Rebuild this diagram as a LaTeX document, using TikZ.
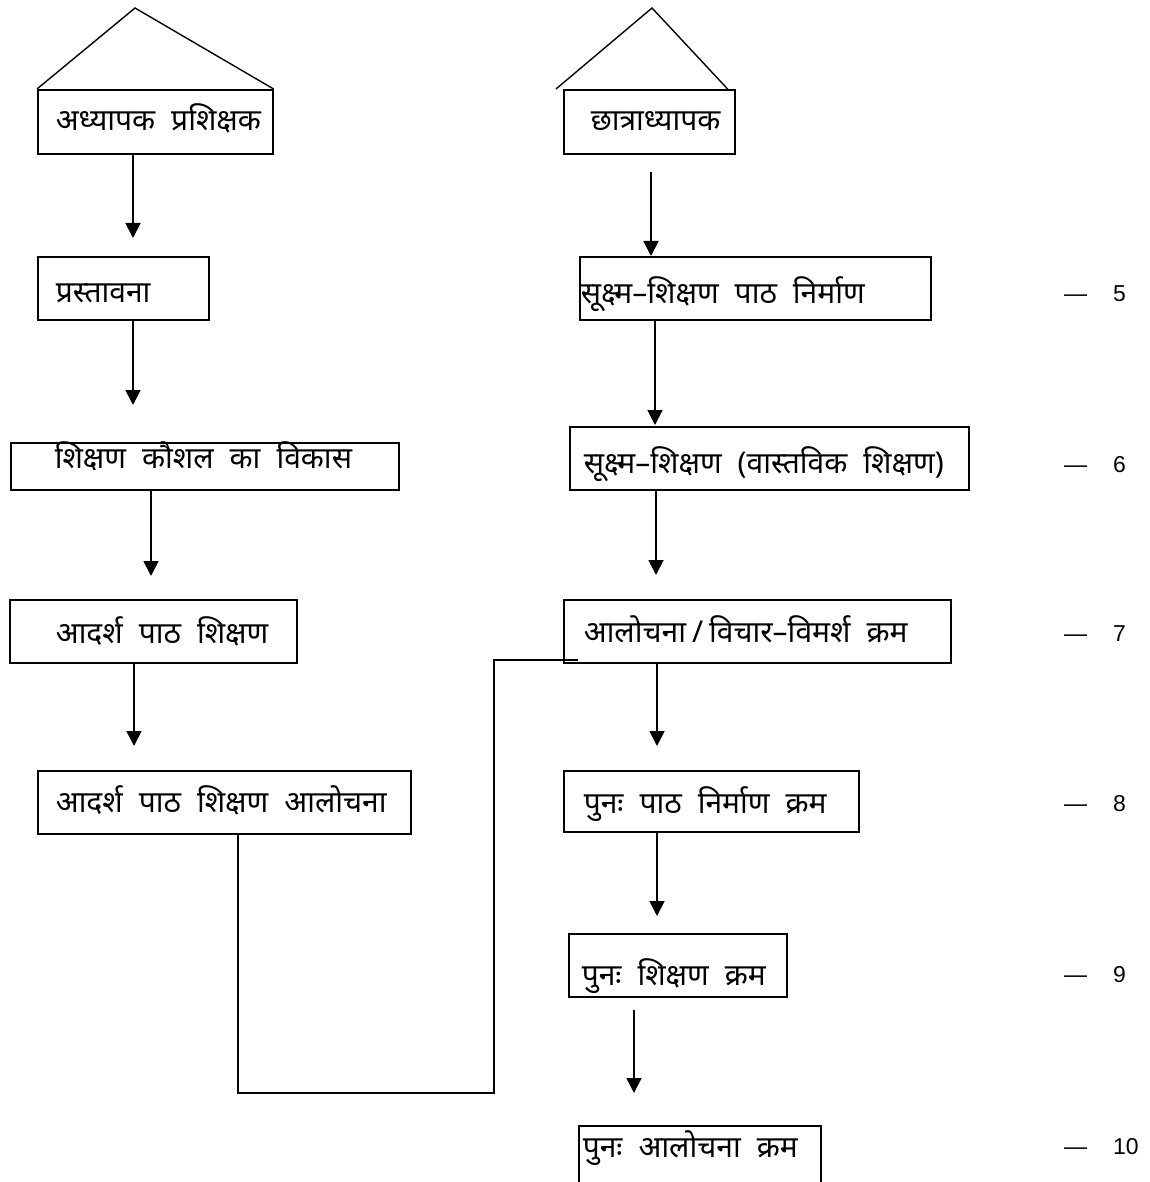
\documentclass[tikz,border=0pt]{standalone}
\usepackage{fontspec}
\newfontfamily\deva[Script=Devanagari]{Noto Sans}
\newfontfamily\numfont{Liberation Sans}
\usetikzlibrary{arrows.meta}
\tikzset{
  stagebox/.style={draw=black, line width=1.6pt, rectangle, anchor=north west, align=left, inner sep=0pt, font=\deva\fontsize{30}{34}\selectfont, execute at begin node={\spaceskip=16pt plus 2pt minus 1pt\relax}},
  flow/.style={line width=1.8pt, -{Triangle[width=15pt,length=15pt]}},
  roof/.style={line width=1.4pt},
  link/.style={line width=1.6pt},
  steplbl/.style={anchor=west, inner sep=0pt, font=\numfont\fontsize{23}{26}\selectfont}
}

\begin{document}
\begin{tikzpicture}[x=1pt,y=-1pt]
\useasboundingbox (0,0) rectangle (1149,1182);

% left column
\node[stagebox, text width=235pt, text height=41pt, text depth=23pt] (b1) at (37,89) {\hspace*{18pt}अध्यापक प्रशिक्षक};
\node[stagebox, text width=171pt, text height=46pt, text depth=17pt] (b2) at (37,256) {\hspace*{18pt}प्रस्तावना};
\node[stagebox, text width=388pt, text height=26pt, text depth=21pt] (b3) at (10,442) {\hspace*{44pt}शिक्षण कौशल का विकास};
\node[stagebox, text width=287pt, text height=44pt, text depth=19pt] (b4) at (9,599) {\hspace*{46pt}आदर्श पाठ शिक्षण};
\node[stagebox, text width=373pt, text height=42pt, text depth=21pt] (b5) at (37,770) {\hspace*{18pt}आदर्श पाठ शिक्षण आलोचना};

% right column
\node[stagebox, text width=171pt, text height=41pt, text depth=23pt] (b6) at (563,89) {\hspace*{27pt}छात्राध्यापक};
\node[stagebox, text width=351pt, text height=47pt, text depth=16pt] (b7) at (579,256) {\hspace*{1pt}सूक्ष्म–शिक्षण पाठ निर्माण};
\node[stagebox, text width=399pt, text height=47pt, text depth=16pt] (b8) at (569,426) {\hspace*{14pt}सूक्ष्म–शिक्षण (वास्तविक शिक्षण)};
\node[stagebox, text width=387pt, text height=43pt, text depth=20pt] (b9) at (563,599) {\hspace*{20pt}आलोचना\hspace{6pt}/\hspace{6pt}विचार–विमर्श क्रम};
\node[stagebox, text width=295pt, text height=43pt, text depth=18pt] (b10) at (563,770) {\hspace*{20pt}पुनः पाठ निर्माण क्रम};
\node[stagebox, text width=218pt, text height=52pt, text depth=11pt] (b11) at (568,933) {\hspace*{13pt}पुनः शिक्षण क्रम};
\node[stagebox, text width=242pt, text height=32pt, text depth=60pt] (b12) at (578,1125) {\hspace*{4pt}पुनः आलोचना क्रम};

% roofs
\coordinate (apexL) at (135,8);
\coordinate (apexR) at (652,8);
\draw[roof] (b1.north west) -- (apexL) -- (b1.north east);
\draw[roof] ([xshift=-7pt]b6.north west) -- (apexR) -- ([xshift=-8pt]b6.north east);

% arrow tips
\coordinate (t1) at (133,238);
\coordinate (t2) at (133,405);
\coordinate (t3) at (151,576);
\coordinate (t4) at (134,746);
\coordinate (t5) at (651,256);
\coordinate (t6) at (655,425);
\coordinate (t7) at (656,575);
\coordinate (t8) at (657,746);
\coordinate (t9) at (657,916);
\coordinate (t10) at (634,1093);

\draw[flow] (b1.south -| t1) -- (t1);
\draw[flow] (b2.south -| t2) -- (t2);
\draw[flow] (b3.south -| t3) -- (t3);
\draw[flow] (b4.south -| t4) -- (t4);
\draw[flow] ([yshift=-17pt]b6.south -| t5) -- (t5);
\draw[flow] (b7.south -| t6) -- (t6);
\draw[flow] (b8.south -| t7) -- (t7);
\draw[flow] (b9.south -| t8) -- (t8);
\draw[flow] (b10.south -| t9) -- (t9);
\draw[flow] ([yshift=-12pt]b11.south -| t10) -- (t10);

% link from left column to the critique box
\coordinate (k1) at (238,1093);
\coordinate (k2) at (494,660);
\coordinate (k3) at (578,660);
\draw[link] (b5.south -| k1) -- (k1) -| (k2) -- (k3);

% step numbers
\node[steplbl] (n5) at (1064,294) {—\hspace{26pt}5};
\node[steplbl] (n6) at (1064,465) {—\hspace{26pt}6};
\node[steplbl] (n7) at (1064,634) {—\hspace{26pt}7};
\node[steplbl] (n8) at (1064,804) {—\hspace{26pt}8};
\node[steplbl] (n9) at (1064,975) {—\hspace{26pt}9};
\node[steplbl] (n10) at (1064,1147) {—\hspace{26pt}10};
\end{tikzpicture}
\end{document}
